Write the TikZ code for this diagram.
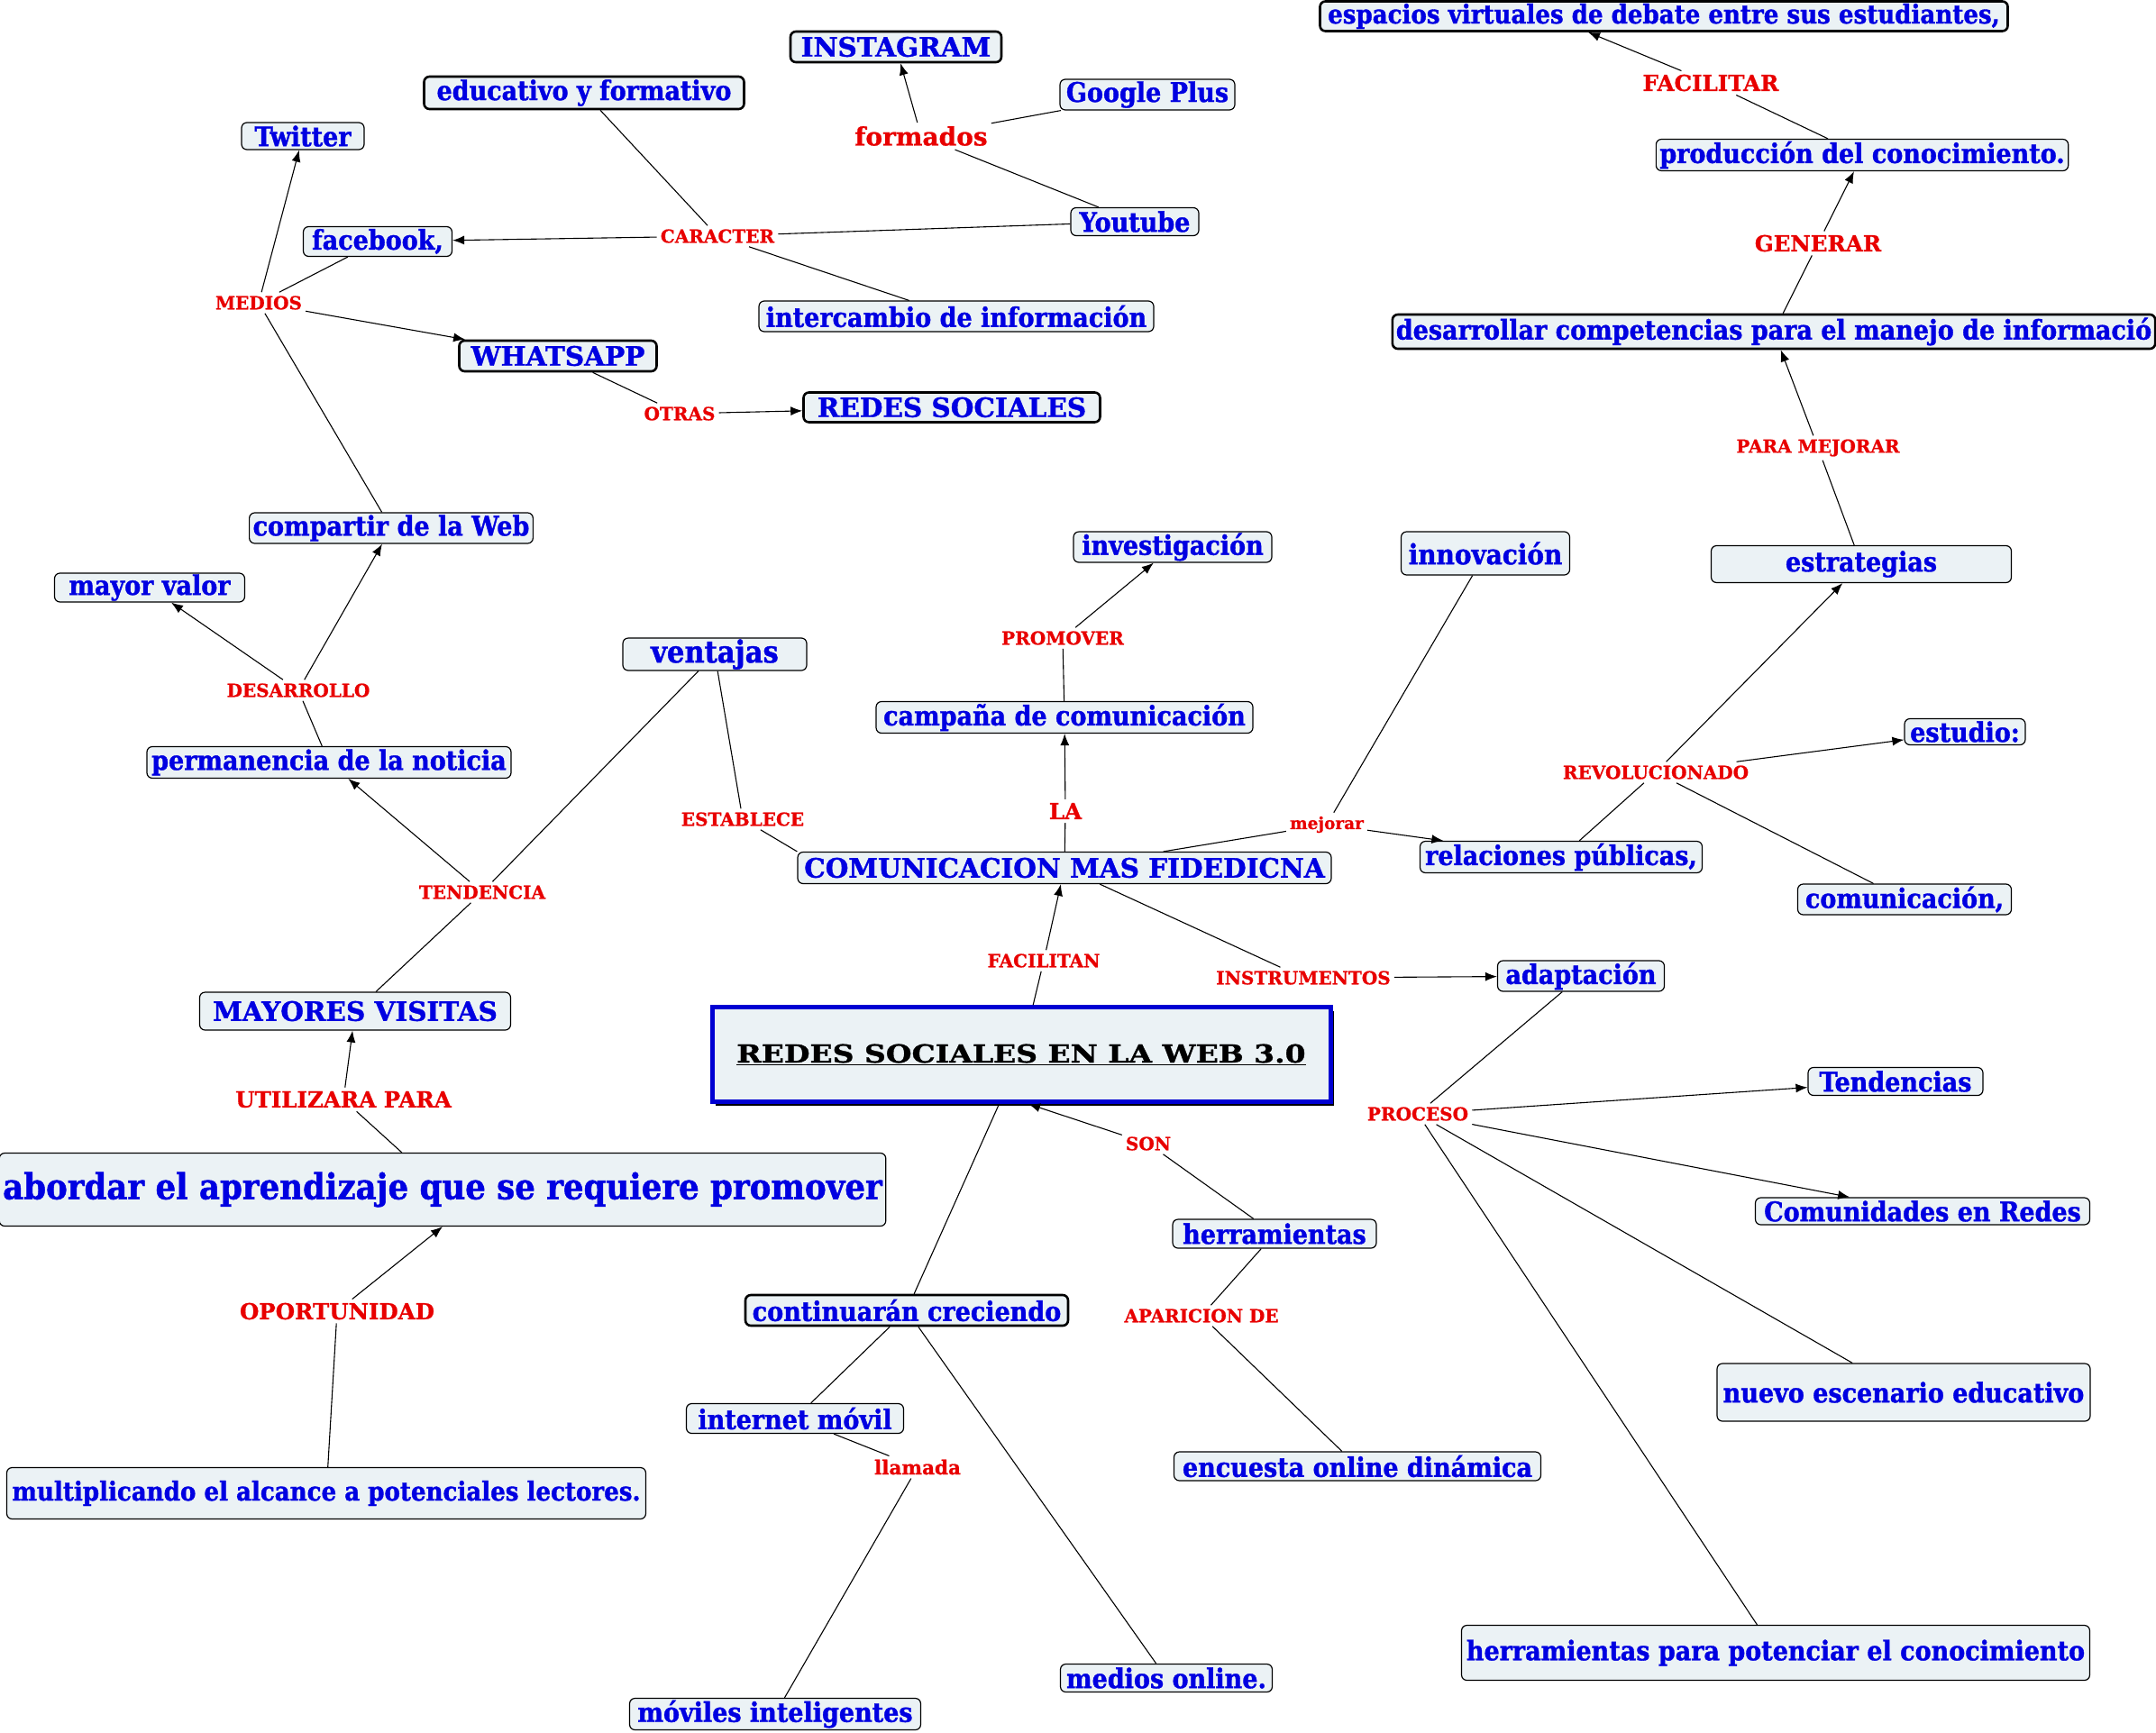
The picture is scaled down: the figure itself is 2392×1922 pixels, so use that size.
\documentclass[tikz,border=0pt]{standalone}
\usepackage{fontspec}
\usepackage{tikz}
\usetikzlibrary{arrows.meta, positioning, calc, shadows}
\newfontfamily\conceptfont[FakeStretch=0.9, FakeBold=1.2]{DejaVu Serif}
\newfontfamily\capsfont[FakeBold=1.2]{DejaVu Serif}
\newfontfamily\linkfont[FakeBold=0.8]{DejaVu Serif}
\newfontfamily\titlefont[FakeStretch=1.2, FakeBold=1.2]{DejaVu Serif}
\definecolor{conceptblue}{RGB}{0, 0, 225}
\definecolor{linkred}{RGB}{232, 0, 0}
\definecolor{conceptfill}{RGB}{235, 242, 245}
\definecolor{titleblue}{RGB}{0, 0, 210}

\begin{document}
\begin{tikzpicture}[
    x=1pt, y=-1pt,
    concept/.style={draw=black, rounded corners=6pt, fill=conceptfill, text=conceptblue,
                    font=\conceptfont\bfseries\fontsize{30}{32}\selectfont,
                    inner xsep=4pt, inner ysep=1pt, line width=1.2pt},
    keyconcept/.style={concept, line width=2.6pt},
    capsconcept/.style={font=\capsfont\bfseries\fontsize{29.5}{31}\selectfont},
    linkword/.style={text=linkred, font=\linkfont\bfseries\fontsize{20}{22}\selectfont, inner sep=4pt},
    biglink/.style={linkword, font=\linkfont\bfseries\fontsize{24.5}{26}\selectfont},
    conn/.style={line width=1.1pt},
    arrow/.style={conn, -{Latex[length=13pt, width=10pt]}}
]
    \useasboundingbox (0,0) rectangle (2392,1922);
    \fill[white] (0,0) rectangle (2392,1922);

    % concepts
    \node[keyconcept, minimum width=763, minimum height=33, font=\conceptfont\bfseries\fontsize{29}{31}\selectfont] (espacios) at (1846,18) {espacios virtuales de debate entre sus estudiantes,};
    \node[concept, minimum width=455, minimum height=35] (produccion) at (2066,172) {producción del conocimiento.};
    \node[keyconcept, minimum width=842, minimum height=38] (competencias) at (1968,368) {desarrollar competencias para el manejo de informació};
    \node[concept, minimum width=333, minimum height=41] (estrategias) at (2065,626) {estrategias};
    \node[concept, minimum width=134, minimum height=29] (estudio) at (2180,812) {estudio:};
    \node[concept, minimum width=313, minimum height=35] (relaciones) at (1732,951) {relaciones públicas,};
    \node[concept, minimum width=237, minimum height=34] (comunicacion) at (2113,998) {comunicación,};
    \node[concept, minimum width=187, minimum height=48, font=\conceptfont\bfseries\fontsize{31}{33}\selectfont] (innovacion) at (1648,614) {innovación};
    \node[concept, minimum width=220, minimum height=34] (investigacion) at (1301,607) {investigación};
    \node[concept, minimum width=418, minimum height=35] (campana) at (1181,796) {campaña de comunicación};
    \node[concept, capsconcept, minimum width=592, minimum height=35] (fidedigna) at (1181,963) {COMUNICACION MAS FIDEDICNA};
    \node[concept, minimum width=204, minimum height=36, font=\conceptfont\bfseries\fontsize{34}{36}\selectfont] (ventajas) at (793,726) {ventajas};
    \node[draw=titleblue, line width=5pt, fill=conceptfill, minimum width=686, minimum height=105,
          drop shadow={shadow xshift=4pt, shadow yshift=-4pt, fill=black, opacity=1},
          font=\titlefont\bfseries\fontsize{27.5}{30}\selectfont] (redes) at (1133,1170) {\underline{REDES SOCIALES EN LA WEB 3.0}};
    \node[concept, minimum width=185, minimum height=34] (adaptacion) at (1754,1083) {adaptación};
    \node[concept, minimum width=194, minimum height=31] (tendencias) at (2103,1200) {Tendencias};
    \node[concept, minimum width=371, minimum height=30] (comunidades) at (2133,1344) {Comunidades en Redes};
    \node[concept, minimum width=414, minimum height=64] (escenario) at (2112,1545) {nuevo escenario educativo};
    \node[concept, minimum width=697, minimum height=61] (potenciar) at (1970,1834) {herramientas para potenciar el conocimiento};
    \node[concept, minimum width=226, minimum height=32] (herramientas) at (1414,1369) {herramientas};
    \node[concept, minimum width=407, minimum height=32] (encuesta) at (1506,1627) {encuesta online dinámica};
    \node[keyconcept, minimum width=358, minimum height=34] (creciendo) at (1006,1454) {continuarán creciendo};
    \node[concept, minimum width=241, minimum height=33] (internet) at (882,1574) {internet móvil};
    \node[concept, minimum width=235, minimum height=31] (mediosonline) at (1294,1862) {medios online.};
    \node[concept, minimum width=323, minimum height=35] (moviles) at (860,1902) {móviles inteligentes};
    \node[concept, minimum width=980, minimum height=81, font=\conceptfont\bfseries\fontsize{39.5}{42}\selectfont] (abordar) at (491,1320) {abordar el aprendizaje que se requiere promover};
    \node[concept, minimum width=709, minimum height=57, font=\conceptfont\bfseries\fontsize{29}{31}\selectfont] (multiplicando) at (362,1657) {multiplicando el alcance a potenciales lectores.};
    \node[concept, capsconcept, minimum width=345, minimum height=42] (visitas) at (394,1122) {MAYORES VISITAS};
    \node[concept, minimum width=404, minimum height=35] (permanencia) at (365,846) {permanencia de la noticia};
    \node[concept, minimum width=211, minimum height=32] (valor) at (166,652) {mayor valor};
    \node[concept, minimum width=312, minimum height=34] (compartir) at (434,586) {compartir de la Web};
    \node[concept, minimum width=136, minimum height=30] (twitter) at (336,151) {Twitter};
    \node[concept, minimum width=165, minimum height=33] (facebook) at (419,268) {facebook,};
    \node[keyconcept, capsconcept, minimum width=219, minimum height=34] (whatsapp) at (619,395) {WHATSAPP};
    \node[keyconcept, capsconcept, minimum width=329, minimum height=33] (redsoc) at (1056,452) {REDES SOCIALES};
    \node[concept, minimum width=438, minimum height=34] (intercambio) at (1061,351) {intercambio de información};
    \node[keyconcept, minimum width=355, minimum height=36] (educativo) at (648,103) {educativo y formativo};
    \node[keyconcept, capsconcept, minimum width=234, minimum height=34] (instagram) at (994,52) {INSTAGRAM};
    \node[concept, minimum width=194, minimum height=34] (google) at (1273,105) {Google Plus};
    \node[concept, minimum width=142, minimum height=31] (youtube) at (1259,246) {Youtube};

    % linking words
    \node[biglink] (lfacilitar) at (1898,92) {FACILITAR};
    \node[biglink] (lgenerar) at (2017,270) {GENERAR};
    \node[linkword] (lparamejorar) at (2017,497) {PARA MEJORAR};
    \node[linkword] (lrevolucionado) at (1837,857) {REVOLUCIONADO};
    \node[linkword, font=\linkfont\bfseries\fontsize{18.5}{20}\selectfont] (lmejorar) at (1472,915) {mejorar};
    \node[linkword] (lpromover) at (1179,708) {PROMOVER};
    \node[biglink] (lla) at (1182,900) {LA};
    \node[linkword] (lestablece) at (824,909) {ESTABLECE};
    \node[linkword] (lfacilitan) at (1158,1066) {FACILITAN};
    \node[linkword] (linstrumentos) at (1446,1085) {INSTRUMENTOS};
    \node[linkword] (lproceso) at (1573,1236) {PROCESO};
    \node[linkword] (lson) at (1274,1269) {SON};
    \node[linkword] (laparicion) at (1333,1460) {APARICION DE};
    \node[linkword, font=\linkfont\bfseries\fontsize{21.5}{23}\selectfont] (lllamada) at (1018,1628) {llamada};
    \node[biglink] (loportunidad) at (374,1455) {OPORTUNIDAD};
    \node[biglink] (lutilizara) at (381,1220) {UTILIZARA PARA};
    \node[linkword] (ltendencia) at (535,990) {TENDENCIA};
    \node[linkword] (ldesarrollo) at (331,766) {DESARROLLO};
    \node[linkword] (lmedios) at (287,336) {MEDIOS};
    \node[linkword] (lcaracter) at (796,262) {CARACTER};
    \node[linkword, font=\linkfont\bfseries\fontsize{28}{30}\selectfont] (lformados) at (1022,151) {formados};
    \node[linkword] (lotras) at (754,459) {OTRAS};

    % connectors
    \draw[conn] (produccion) -- (lfacilitar);
    \draw[arrow] (lfacilitar) -- ($(espacios.south)+(-84,0)$);
    \draw[conn] (competencias) -- (lgenerar);
    \draw[arrow] (lgenerar) -- (produccion);
    \draw[conn] (estrategias) -- (lparamejorar);
    \draw[arrow] (lparamejorar) -- (competencias);
    \draw[conn] (relaciones) -- (lrevolucionado);
    \draw[conn] (comunicacion) -- (lrevolucionado);
    \draw[arrow] (lrevolucionado) -- (estrategias);
    \draw[arrow] (lrevolucionado) -- (estudio);
    \draw[conn] (fidedigna) -- (lmejorar);
    \draw[conn] (innovacion) -- (lmejorar);
    \draw[arrow] (lmejorar) -- (relaciones);
    \draw[conn] (fidedigna) -- (lla);
    \draw[arrow] (lla) -- (campana);
    \draw[conn] (campana) -- (lpromover);
    \draw[arrow] (lpromover) -- (investigacion);
    \draw[conn] (fidedigna.north west) -- (lestablece);
    \draw[conn] (lestablece) -- (ventajas);
    \draw[conn] (redes) -- (lfacilitan);
    \draw[arrow] (lfacilitan) -- (fidedigna);
    \draw[conn] (fidedigna) -- (linstrumentos);
    \draw[arrow] (linstrumentos) -- (adaptacion);
    \draw[conn] (adaptacion) -- (lproceso);
    \draw[arrow] (lproceso) -- (tendencias);
    \draw[arrow] (lproceso) -- (comunidades);
    \draw[conn] (lproceso) -- (escenario);
    \draw[conn] (lproceso) -- (potenciar);
    \draw[conn] (herramientas) -- (lson);
    \draw[arrow] (lson) -- ($(redes.south)+(8,0)$);
    \draw[conn] (herramientas) -- (laparicion);
    \draw[conn] (laparicion) -- (encuesta);
    \draw[conn] (redes) -- (creciendo);
    \draw[conn] (creciendo) -- (internet);
    \draw[conn] (creciendo) -- (mediosonline);
    \draw[conn] (internet) -- (lllamada);
    \draw[conn] (lllamada) -- (moviles);
    \draw[conn] (abordar) -- (lutilizara);
    \draw[arrow] (lutilizara) -- (visitas);
    \draw[conn] (multiplicando) -- (loportunidad);
    \draw[arrow] (loportunidad) -- (abordar.south);
    \draw[conn] (visitas) -- (ltendencia);
    \draw[conn] (ventajas) -- (ltendencia);
    \draw[arrow] (ltendencia) -- (permanencia);
    \draw[conn] (permanencia) -- (ldesarrollo);
    \draw[arrow] (ldesarrollo) -- (compartir);
    \draw[arrow] (ldesarrollo) -- (valor);
    \draw[conn] (compartir) -- (lmedios);
    \draw[arrow] (lmedios) -- (twitter);
    \draw[conn] (lmedios) -- (facebook);
    \draw[arrow] (lmedios) -- (whatsapp);
    \draw[conn] (whatsapp) -- (lotras);
    \draw[arrow] (lotras) -- (redsoc);
    \draw[conn] (youtube) -- (lcaracter);
    \draw[conn] (educativo) -- (lcaracter);
    \draw[conn] (lcaracter) -- (intercambio);
    \draw[arrow] (lcaracter) -- (facebook);
    \draw[conn] (youtube) -- (lformados);
    \draw[conn] (lformados) -- (google);
    \draw[arrow] (lformados) -- (instagram);
\end{tikzpicture}
\end{document}
